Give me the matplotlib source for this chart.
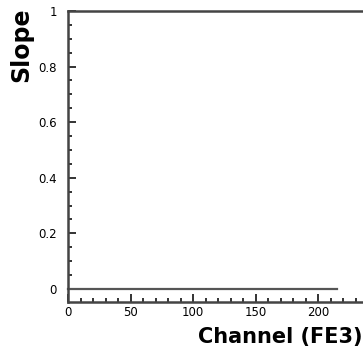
import numpy as np
import matplotlib
matplotlib.use('Agg')
import matplotlib.pyplot as plt
from matplotlib.ticker import MultipleLocator

# data
channel = [0, 215]
slope = [0, 0]
yticks = [0, 0.2, 0.4, 0.6, 0.8, 1]
ytick_labels = ['0', '0.2', '0.4', '0.6', '0.8', '1']
xticks = [0, 50, 100, 150, 200]
xtick_labels = ['0', '50', '100', '150', '200']

fig = plt.figure(figsize=(3.63, 3.55), dpi=100)
ax = fig.add_axes([68/363, 53/355, 320/363, 291/355])

ax.plot(channel, slope, color='#555555', lw=1.6, clip_on=False)

ax.set_xlim(0, 256)
ax.set_ylim(-0.047, 1)
ax.set_yticks(yticks)
ax.set_yticklabels(ytick_labels)
ax.set_xticks(xticks)
ax.set_xticklabels(xtick_labels)
ax.xaxis.set_minor_locator(MultipleLocator(10))
ax.yaxis.set_minor_locator(MultipleLocator(0.05))

ax.tick_params(which='both', direction='in', colors='#333333', width=1.4,
               top=False, right=False, labelcolor='black', labelsize=8.5)
ax.tick_params(which='major', length=6)
ax.tick_params(which='minor', length=3)
ax.tick_params(axis='y', pad=8)
ax.tick_params(axis='x', pad=3)

for s in ['left', 'bottom', 'top']:
    ax.spines[s].set_color('#444444')
    ax.spines[s].set_linewidth(1.8)
ax.spines['right'].set_visible(False)

fig.text(362/363, 1 - 343/355, 'Channel (FE3)', ha='right', va='baseline',
         fontsize=15, fontweight='bold')
fig.text(21/363, 1 - 8/355, 'Slope', ha='center', va='top', rotation=90,
         fontsize=17, fontweight='bold')

fig.savefig('out.png', dpi=100)
